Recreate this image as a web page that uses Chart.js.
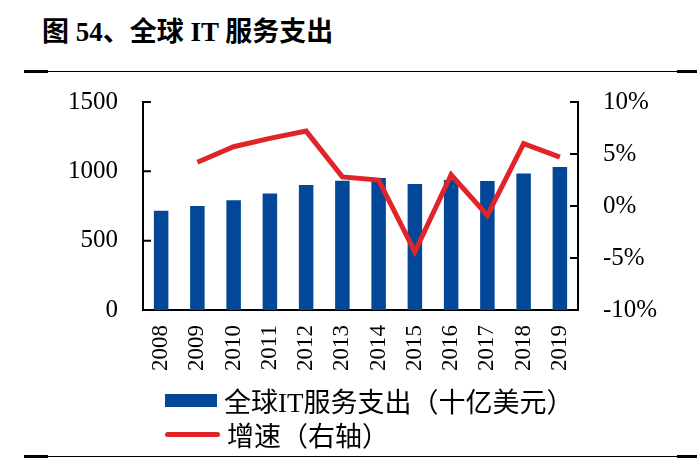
<!DOCTYPE html>
<html>
  <head>
    <meta charset="utf-8" />
    <title>全球IT服务支出</title>
    <style>
      body { margin: 0; background: #fff; }
      #page { position: relative; width: 697px; height: 459px; overflow: hidden; font-family: "Liberation Serif", "Noto Sans CJK SC", serif; }
      #title { position: absolute; left: 42px; top: 10px; font-size: 27px; font-weight: bold; white-space: nowrap; }
      .rule { position: absolute; height: 1px; background: #000; }
      .rule.thick { height: 3px; }
      #chart { position: absolute; left: 0; top: 62px; }
      .legend-row { position: absolute; left: 165px; height: 30px; font-size: 27px; white-space: nowrap; display: flex; align-items: center; }
      .legend-row .mark { display: inline-block; margin-right: 7px; }
    </style>
  </head>
  <body>
    <div id="page">
      <div id="title">图 54、全球 IT 服务支出</div>

      <div class="rule thick" style="left: 24px; top: 70px; width: 24px"></div>
      <div class="rule" style="left: 48px; top: 71px; width: 629px"></div>
      <div class="rule thick" style="left: 677px; top: 70px; width: 20px"></div>

      <canvas id="chart" width="697" height="323"></canvas>

      <div id="legend"></div>

      <div class="rule thick" style="left: 24px; top: 455px; width: 24px"></div>
      <div class="rule" style="left: 48px; top: 456px; width: 629px"></div>
      <div class="rule thick" style="left: 677px; top: 455px; width: 20px"></div>
    </div>

    <script src="https://cdn.jsdelivr.net/npm/chart.js"></script>
    <script>
      // 数据
      const years = ["2008", "2009", "2010", "2011", "2012", "2013", "2014", "2015", "2016", "2017", "2018", "2019"];
      const spending = [716, 750, 791, 841, 901, 932, 952, 908, 937, 930, 985, 1031];
      const growth = [null, 4.2, 5.7, 6.5, 7.2, 2.8, 2.5, -4.4, 3.0, -0.9, 6.0, 4.7];
      const leftTicks = [0, 500, 1000, 1500];
      const rightTicks = [-10, -5, 0, 5, 10];

      const barLabel = "全球IT服务支出（十亿美元）";
      const lineLabel = "增速（右轴）";
      const blue = "#034799";
      const red = "#e0252a";

      // ticks pointing into the plot area
      const innerTicks = {
        id: "innerTicks",
        afterDraw(chart) {
          const ctx = chart.ctx;
          const y = chart.scales.y;
          const y1 = chart.scales.y1;
          ctx.save();
          ctx.strokeStyle = "#000";
          ctx.lineWidth = 2;
          ctx.beginPath();
          leftTicks.forEach((v) => {
            const py = y.getPixelForValue(v);
            ctx.moveTo(y.right, py);
            ctx.lineTo(y.right + 8, py);
          });
          rightTicks.forEach((v) => {
            const py = y1.getPixelForValue(v);
            ctx.moveTo(y1.left, py);
            ctx.lineTo(y1.left - 8, py);
          });
          ctx.stroke();
          ctx.restore();
        },
      };

      const tickFont = { family: "'Liberation Serif', serif", size: 25 };

      new Chart(document.getElementById("chart"), {
        data: {
          labels: years,
          datasets: [
            {
              type: "bar",
              label: barLabel,
              data: spending,
              backgroundColor: blue,
              barPercentage: 0.4,
              categoryPercentage: 1,
              yAxisID: "y",
              order: 2,
            },
            {
              type: "line",
              label: lineLabel,
              data: growth,
              borderColor: red,
              borderWidth: 5,
              pointRadius: 0,
              tension: 0,
              yAxisID: "y1",
              order: 1,
            },
          ],
        },
        options: {
          responsive: false,
          animation: false,
          devicePixelRatio: 1,
          layout: { padding: { top: 22, left: 0, right: 0, bottom: 0 } },
          plugins: {
            legend: { display: false },
            tooltip: { enabled: false },
          },
          scales: {
            x: {
              grid: { display: false, drawTicks: false },
              border: { display: true, color: "#000", width: 2 },
              ticks: {
                color: "#000",
                font: { family: "'Liberation Serif', serif", size: 23 },
                minRotation: 90,
                maxRotation: 90,
                padding: 15,
              },
              afterFit(scale) { scale.height = 75; },
            },
            y: {
              position: "left",
              min: 0,
              max: 1500,
              grid: { display: false, drawTicks: false },
              border: { display: true, color: "#000", width: 2 },
              ticks: {
                color: "#000",
                font: tickFont,
                stepSize: 500,
                padding: 25,
                callback: (v) => String(v),
              },
              afterFit(scale) { scale.width = 143; },
            },
            y1: {
              position: "right",
              min: -10,
              max: 10,
              grid: { display: false, drawTicks: false },
              border: { display: true, color: "#000", width: 2 },
              ticks: {
                color: "#000",
                font: tickFont,
                stepSize: 5,
                padding: 25,
                callback: (v) => v + "%",
              },
              afterFit(scale) { scale.width = 119; },
            },
          },
        },
        plugins: [innerTicks],
      });

      // 图例
      const legend = document.getElementById("legend");
      legend.innerHTML =
        `<div class="legend-row" style="top: 385px"><span class="mark" style="width: 52px; height: 13px; background: ${blue}"></span>${barLabel}</div>` +
        `<div class="legend-row" style="top: 419px"><span class="mark" style="width: 55px; height: 5px; border-radius: 3px; background: ${red}"></span>${lineLabel}</div>`;
    </script>
  </body>
</html>
